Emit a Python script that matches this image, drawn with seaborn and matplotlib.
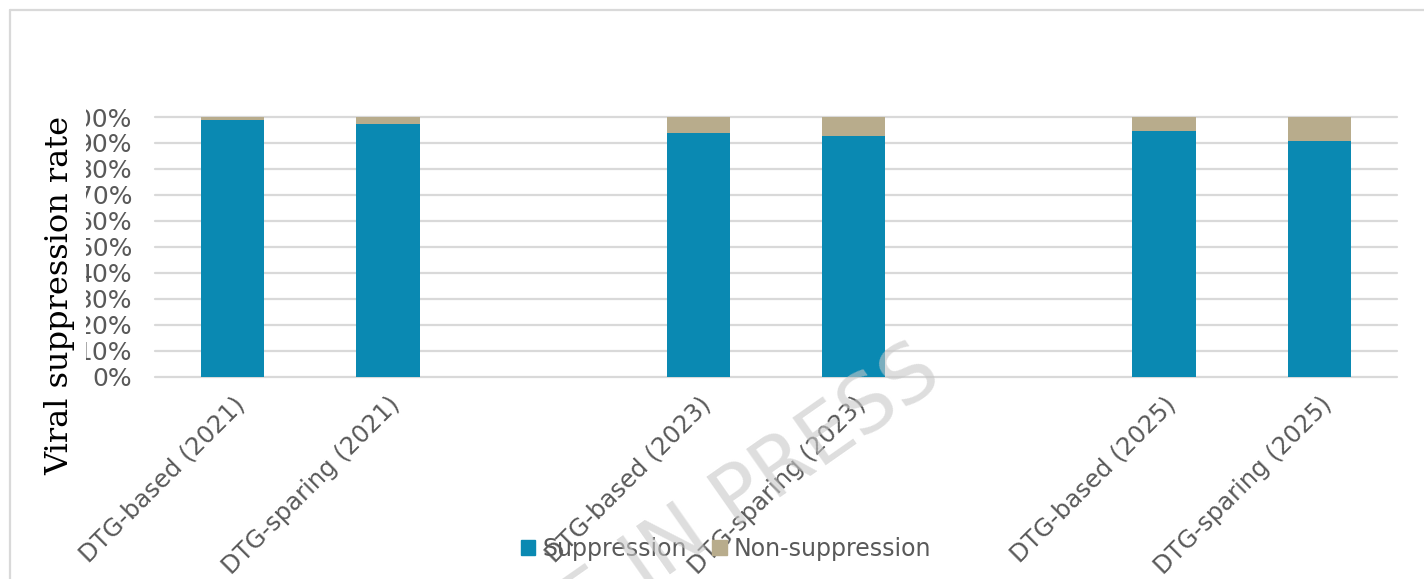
import pandas as pd
import seaborn as sns
import matplotlib
from matplotlib import pyplot as plt
from matplotlib.patches import Patch, Rectangle
from matplotlib.lines import Line2D

matplotlib.use('Agg')

# data (percent)
regimens = ['DTG-based (2021)', 'DTG-sparing (2021)',
            'DTG-based (2023)', 'DTG-sparing (2023)',
            'DTG-based (2025)', 'DTG-sparing (2025)']
suppression = [98.9, 97.3, 93.8, 92.7, 94.6, 90.8]
non_suppression = [100 - v for v in suppression]
# empty slots between the years
order = ['DTG-based (2021)', 'DTG-sparing (2021)', ' ',
         'DTG-based (2023)', 'DTG-sparing (2023)', '  ',
         'DTG-based (2025)', 'DTG-sparing (2025)']
yticks = list(range(0, 101, 10))

blue = '#0a89b2'
tan = '#b8ac8c'
grey_txt = '#595959'

df = pd.DataFrame({'regimen': regimens,
                   'suppression': suppression,
                   'non_suppression': non_suppression})
df['total'] = df['suppression'] + df['non_suppression']

sns.set_style('white')
plt.rcParams['font.family'] = ['DejaVu Sans']

fig = plt.figure(figsize=(14.24, 5.79), dpi=100)
ax = fig.add_axes([155 / 1424, 1 - 377 / 579, 1242 / 1424, 260 / 579])

sns.barplot(data=df, x='regimen', y='total', order=order, color=tan,
            width=0.41, saturation=1, linewidth=0, ax=ax, zorder=2)
sns.barplot(data=df, x='regimen', y='suppression', order=order, color=blue,
            width=0.41, saturation=1, linewidth=0, ax=ax, zorder=3)

ax.set_ylim(0, 100)
ax.set_xlim(-0.5, 7.5)
ax.set_yticks(yticks)
ax.set_yticklabels(['{}%'.format(v) for v in yticks], fontsize=18, color=grey_txt)
ax.tick_params(axis='y', length=0, pad=16.5)
ax.tick_params(axis='x', length=0, pad=11)
plt.setp(ax.get_xticklabels(), rotation=45, ha='right', rotation_mode='anchor',
         fontsize=17.5, color=grey_txt)
ax.set_xlabel('')
ax.set_ylabel('')
for sp in ax.spines.values():
    sp.set_visible(False)
ax.set_axisbelow(True)
for yv in yticks:
    ax.axhline(yv, color='#d9d9d9', linewidth=1.6, zorder=1, clip_on=False)

# tick labels are cut off on the left in the original
clip = Rectangle((86 / 1424, 0), 1, 1, transform=fig.transFigure)
for lab in ax.get_yticklabels():
    lab.set_clip_path(clip)
    lab.set_clip_on(True)

fig.text(60 / 1424, 1 - 295 / 579, 'Viral suppression rate', rotation=90,
         ha='center', va='center', fontsize=23, family='DejaVu Serif', color='black')

handles = [Patch(color=blue, label='Suppression'),
           Patch(color=tan, label='Non-suppression')]
fig.legend(handles=handles, loc='center', bbox_to_anchor=(726 / 1424, 1 - 549 / 579),
           ncol=2, frameon=False, fontsize=17, labelcolor=grey_txt,
           handlelength=0.6, handleheight=0.6, handletextpad=0.3, columnspacing=1.1)

# watermark
fig.text(945 / 1424, 1 - 382 / 579, 'ARTICLE IN PRESS', rotation=35,
         rotation_mode='anchor', ha='right', va='baseline', fontsize=58,
         color='#c8c8c8', alpha=0.6, zorder=10)

# outer frame
fig.add_artist(Line2D([10 / 1424, 10 / 1424], [0, 1 - 10 / 579], transform=fig.transFigure,
                      color='#d9d9d9', linewidth=1.6))
fig.add_artist(Line2D([10 / 1424, 1], [1 - 10 / 579, 1 - 10 / 579], transform=fig.transFigure,
                      color='#d9d9d9', linewidth=1.6))

fig.savefig('out.png', dpi=100)
